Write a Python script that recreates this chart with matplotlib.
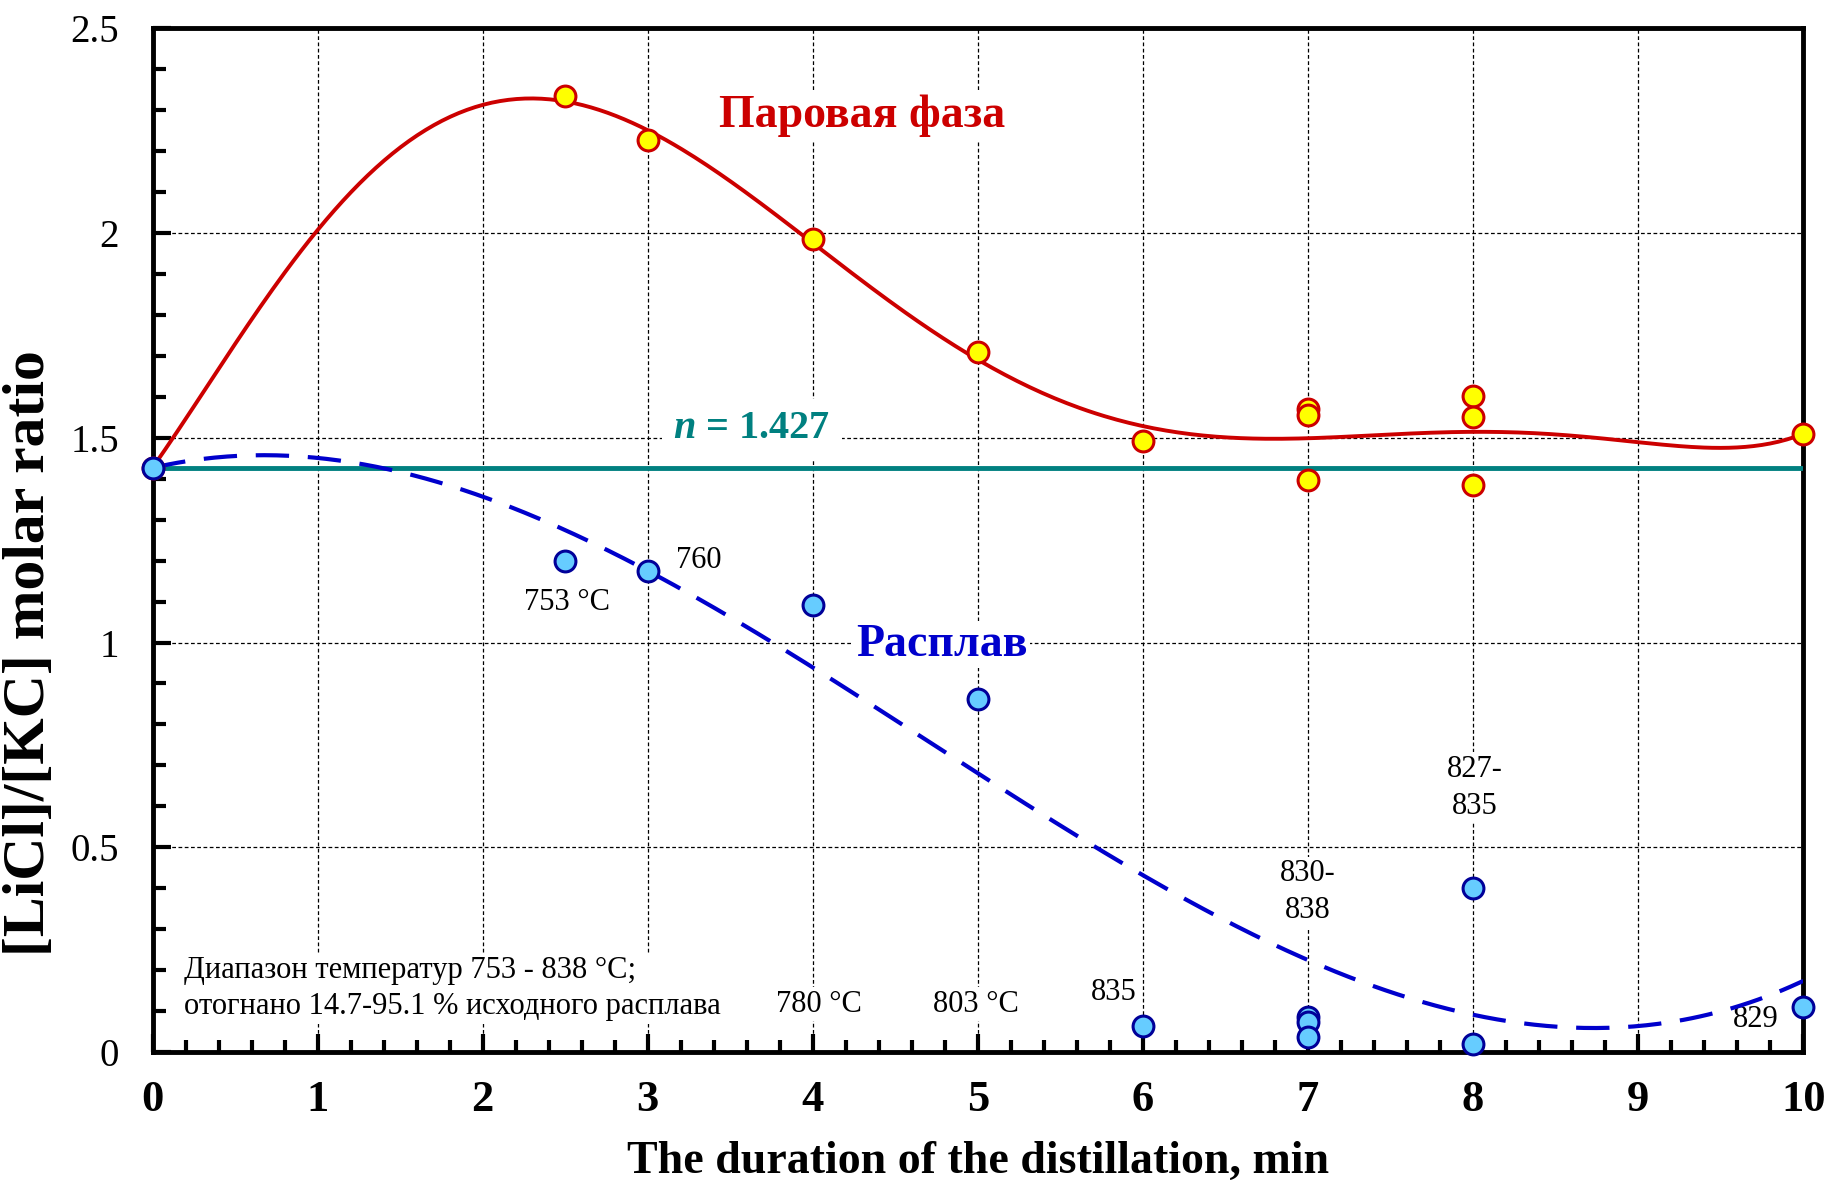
import numpy as np
import matplotlib
matplotlib.use("Agg")
import matplotlib.pyplot as plt

plt.rcParams['font.family'] = ['Liberation Serif', 'DejaVu Serif']
plt.rcParams['mathtext.fontset'] = 'custom'
plt.rcParams['mathtext.rm'] = 'Liberation Serif'
plt.rcParams['mathtext.bf'] = 'Liberation Serif:bold'
plt.rcParams['mathtext.it'] = 'Liberation Serif:italic'
plt.rcParams['mathtext.bfit'] = 'Liberation Serif:italic:bold'

# vapour phase (Паровая фаза)
vapTime = [0, 2.5, 3, 4, 5, 6, 7, 7, 7, 8, 8, 8, 10]
vapRatio = [1.427, 2.335, 2.227, 1.985, 1.709, 1.493, 1.570, 1.556, 1.396, 1.601, 1.550, 1.385, 1.510]

# melt (Расплав) - main series, used for the trend
meltTime = [0, 2.5, 3, 4, 5, 6, 7, 8, 10]
meltRatio = [1.427, 1.200, 1.175, 1.092, 0.862, 0.063, 0.085, 0.401, 0.111]
# melt - repeated runs
meltRepTime = [7, 7, 8]
meltRepRatio = [0.074, 0.037, 0.020]

nInitial = 1.427

# temperature notes
tempText = ["753 °C", "760", "780 °C", "803 °C", "835", "830-\n838", "827-\n835", "829"]
tempX = [2.51, 3.31, 4.04, 4.99, 5.82, 7.0, 8.01, 9.71]
tempY = [1.098, 1.200, 0.117, 0.117, 0.145, 0.39, 0.645, 0.08]


def trendline(x, y, degree, x0=None):
    # polynomial trend, optionally with the intercept fixed at x0
    x = np.asarray(x, float)
    y = np.asarray(y, float)
    if x0 is None:
        c = np.polyfit(x, y, degree)
        return lambda t: np.polyval(c, t)
    A = np.column_stack([x ** k for k in range(1, degree + 1)])
    coef = np.linalg.lstsq(A, y - x0, rcond=None)[0]
    return lambda t: x0 + sum(c * t ** (k + 1) for k, c in enumerate(coef))


fig = plt.figure(figsize=(18.27, 11.80), dpi=100)
ax = fig.add_axes([0.0835, 0.1085, 0.9035, 0.8675])

xs = np.linspace(0, 10, 400)
vapFit = trendline(vapTime, vapRatio, 6, nInitial)
meltFit = trendline(meltTime, meltRatio, 3)

ax.axhline(nInitial, color='#008080', lw=3.5, zorder=3)
ax.plot(xs, vapFit(xs), color='#CC0000', lw=2.8, zorder=4)
ax.plot(xs, meltFit(xs), color='#0000CC', lw=3, dashes=(8, 4.5), zorder=4)

ax.plot(vapTime, vapRatio, ls='none', marker='o', ms=15, mfc='#FFFF00', mec='#CC0000', mew=2.2, zorder=5, clip_on=False)
ax.plot(meltTime + meltRepTime, meltRatio + meltRepRatio, ls='none', marker='o', ms=15,
        mfc='#66CCFF', mec='#000099', mew=2.2, zorder=5, clip_on=False)

wbox = dict(facecolor='white', edgecolor='none', pad=2)
for t, x, y in zip(tempText, tempX, tempY):
    ax.text(x, y, t, fontsize=22, ha='center', va='center', linespacing=1.35, bbox=wbox, zorder=2)

ax.text(0.19, 0.155, "Диапазон температур 753 - 838 °C;\nотогнано 14.7-95.1 % исходного расплава",
        fontsize=22, ha='left', va='center', linespacing=1.3, bbox=wbox, zorder=2)

ax.text(4.3, 2.287, "Паровая фаза", fontsize=33, fontweight='bold', color='#CC0000',
        ha='center', va='center', bbox=wbox, zorder=2)
ax.text(4.78, 0.995, "Расплав", fontsize=33, fontweight='bold', color='#0000CC',
        ha='center', va='center', bbox=wbox, zorder=2)
ax.text(3.63, 1.522, r"$\bfit{n}$ = 1.427", fontsize=29, fontweight='bold', color='#008080',
        ha='center', va='center', bbox=dict(facecolor='white', edgecolor='none', pad=8), zorder=2)

ax.set_xlim(0, 10)
ax.set_ylim(0, 2.5)
ax.set_xticks(np.arange(0, 11, 1))
ax.set_yticks([0, 0.5, 1, 1.5, 2, 2.5])
ax.set_yticklabels(["0", "0.5", "1", "1.5", "2", "2.5"])
ax.set_xticks(np.arange(0, 10.01, 0.2), minor=True)
ax.set_yticks(np.arange(0, 2.51, 0.1), minor=True)
ax.tick_params(which='both', direction='in', width=3, top=False, right=False)
ax.tick_params(which='major', length=13)
ax.tick_params(which='minor', length=9)
ax.tick_params(axis='x', labelsize=32, pad=20)
ax.tick_params(axis='y', labelsize=28, pad=24)
for lab in ax.get_xticklabels():
    lab.set_fontweight('bold')

for s in ax.spines.values():
    s.set_linewidth(3.5)

ax.grid(which='major', color='black', lw=0.9, ls=(0, (3, 2)), zorder=0)

ax.set_xlabel("The duration of the distillation, min", fontsize=33, fontweight='bold', labelpad=15)
ax.set_ylabel("[LiCl]/[KC] molar ratio", fontsize=43, fontweight='bold')
ax.yaxis.set_label_coords(-0.058, 0.39)

fig.savefig("out.png", dpi=100)
